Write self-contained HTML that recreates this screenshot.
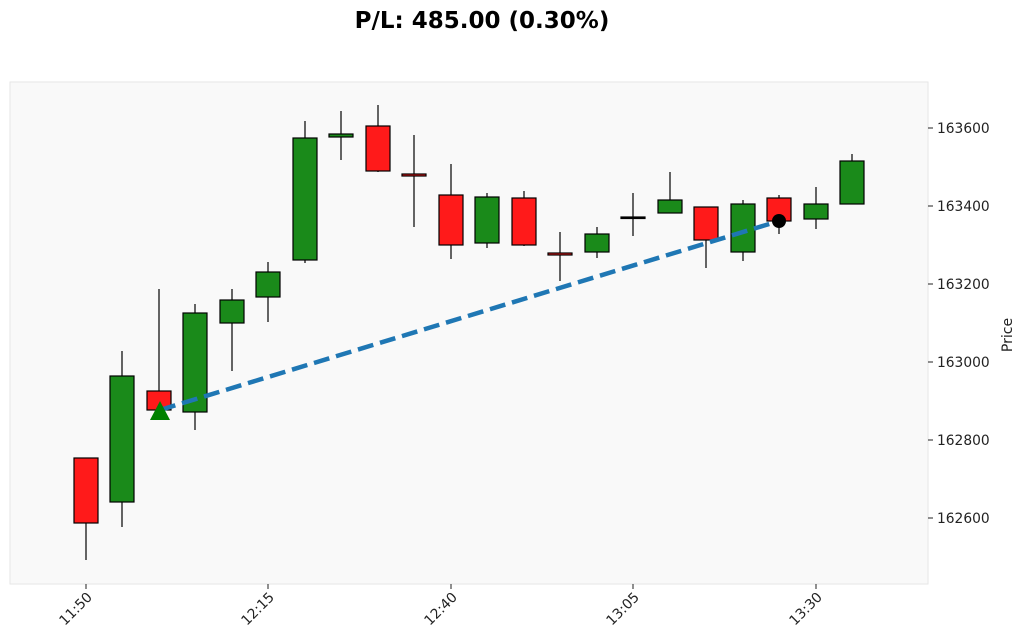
<!DOCTYPE html>
<html><head><meta charset="utf-8"><style>
body{margin:0;background:#fff;}
svg{display:block;font-family:"DejaVu Sans","Liberation Sans",sans-serif;}
</style></head><body>
<svg width="1024" height="644" viewBox="0 0 1024 644">
<rect width="1024" height="644" fill="#fff"/>
<text x="482" y="28" text-anchor="middle" font-size="23" font-weight="bold">P/L: 485.00 (0.30%)</text>
<rect x="10" y="82" width="918" height="502" fill="#f9f9f9" stroke="#e6e6e6"/>
<g font-size="13.8" fill="#222">
<g stroke="#222">
<line x1="928" y1="128" x2="933" y2="128"/><line x1="928" y1="206" x2="933" y2="206"/><line x1="928" y1="284" x2="933" y2="284"/><line x1="928" y1="362" x2="933" y2="362"/><line x1="928" y1="440" x2="933" y2="440"/><line x1="928" y1="518" x2="933" y2="518"/>
<line x1="86" y1="584" x2="86" y2="589"/><line x1="268" y1="584" x2="268" y2="589"/><line x1="451" y1="584" x2="451" y2="589"/><line x1="633" y1="584" x2="633" y2="589"/><line x1="816" y1="584" x2="816" y2="589"/>
</g>
<text x="937" y="133">163600</text><text x="937" y="211">163400</text><text x="937" y="289">163200</text><text x="937" y="367">163000</text><text x="937" y="445">162800</text><text x="937" y="523">162600</text>
<text transform="translate(1012,335) rotate(-90)" text-anchor="middle" font-size="14">Price</text>
<text transform="translate(93,598) rotate(-45)" text-anchor="end">11:50</text>
<text transform="translate(275,598) rotate(-45)" text-anchor="end">12:15</text>
<text transform="translate(458,598) rotate(-45)" text-anchor="end">12:40</text>
<text transform="translate(640,598) rotate(-45)" text-anchor="end">13:05</text>
<text transform="translate(823,598) rotate(-45)" text-anchor="end">13:30</text>
</g>
<g stroke="#000" stroke-width="1.2">
<line x1="86" y1="458" x2="86" y2="560"/><rect x="74" y="458" width="24" height="65" fill="#ff1a1a"/>
<line x1="122" y1="351" x2="122" y2="527"/><rect x="110" y="376" width="24" height="126" fill="#1a8a1a"/>
<line x1="159" y1="289" x2="159" y2="410"/><rect x="147" y="391" width="24" height="19" fill="#ff1a1a"/>
<line x1="195" y1="304" x2="195" y2="430"/><rect x="183" y="313" width="24" height="99" fill="#1a8a1a"/>
<line x1="232" y1="289" x2="232" y2="371"/><rect x="220" y="300" width="24" height="23" fill="#1a8a1a"/>
<line x1="268" y1="262" x2="268" y2="322"/><rect x="256" y="272" width="24" height="25" fill="#1a8a1a"/>
<line x1="305" y1="121" x2="305" y2="263"/><rect x="293" y="138" width="24" height="122" fill="#1a8a1a"/>
<line x1="341" y1="111" x2="341" y2="160"/><rect x="329" y="134" width="24" height="3" fill="#1a8a1a"/>
<line x1="378" y1="105" x2="378" y2="172"/><rect x="366" y="126" width="24" height="45" fill="#ff1a1a"/>
<line x1="414" y1="135" x2="414" y2="227"/><rect x="402" y="174" width="24" height="2" fill="#ff1a1a"/>
<line x1="451" y1="164" x2="451" y2="259"/><rect x="439" y="195" width="24" height="50" fill="#ff1a1a"/>
<line x1="487" y1="193" x2="487" y2="248"/><rect x="475" y="197" width="24" height="46" fill="#1a8a1a"/>
<line x1="524" y1="191" x2="524" y2="246"/><rect x="512" y="198" width="24" height="47" fill="#ff1a1a"/>
<line x1="560" y1="232" x2="560" y2="281"/><rect x="548" y="253" width="24" height="2" fill="#ff1a1a"/>
<line x1="597" y1="227" x2="597" y2="258"/><rect x="585" y="234" width="24" height="18" fill="#1a8a1a"/>
<line x1="633" y1="193" x2="633" y2="236"/><rect x="621" y="217" width="24" height="1.5" fill="#000"/>
<line x1="670" y1="172" x2="670" y2="213"/><rect x="658" y="200" width="24" height="13" fill="#1a8a1a"/>
<line x1="706" y1="207" x2="706" y2="268"/><rect x="694" y="207" width="24" height="33" fill="#ff1a1a"/>
<line x1="743" y1="200" x2="743" y2="261"/><rect x="731" y="204" width="24" height="48" fill="#1a8a1a"/>
<line x1="779" y1="195" x2="779" y2="234"/><rect x="767" y="198" width="24" height="23" fill="#ff1a1a"/>
<line x1="816" y1="187" x2="816" y2="229"/><rect x="804" y="204" width="24" height="15" fill="#1a8a1a"/>
<line x1="852" y1="154" x2="852" y2="204"/><rect x="840" y="161" width="24" height="43" fill="#1a8a1a"/>
</g>
<line x1="160" y1="410" x2="779" y2="221" stroke="#1f77b4" stroke-width="4.5" stroke-dasharray="16,7"/>
<polygon points="160,401 150,420 170,420" fill="#008000"/>
<circle cx="779" cy="221" r="7" fill="#000"/>
</svg>
</body></html>
